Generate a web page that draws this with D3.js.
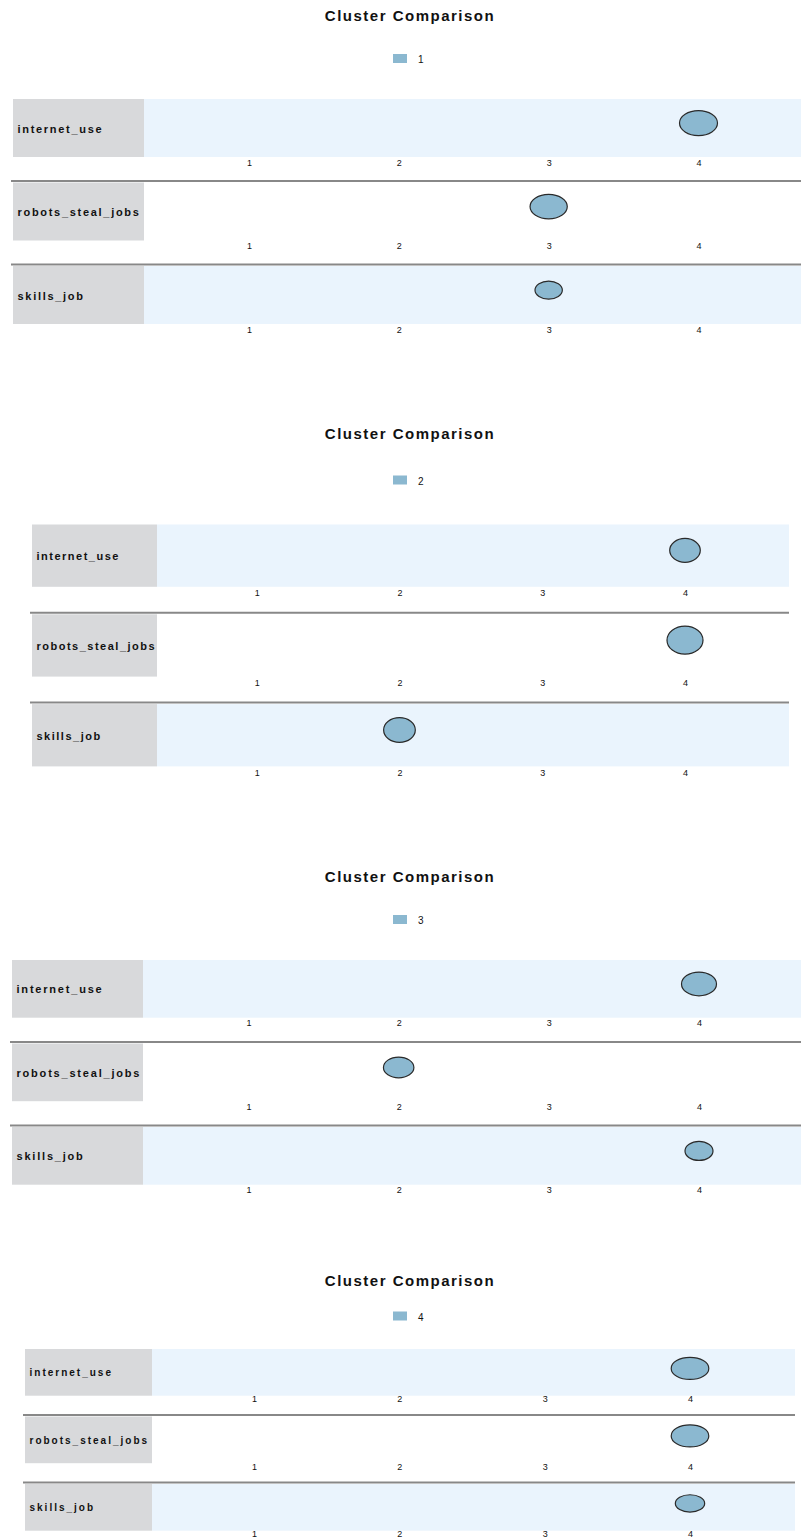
<!DOCTYPE html>
<html lang="en">
<head>
  <meta charset="UTF-8" />
  <title>Cluster Comparison</title>
  <script src="https://cdn.jsdelivr.net/npm/d3@7"></script>
  <style>
    body { margin: 0; background: #fff; }
    svg { display: block; font-family: "Liberation Sans", Arial, sans-serif; }
    .title { font-weight: bold; fill: #111; }
    .rowlabel { font-weight: bold; fill: #111; }
    .tick text { fill: #111; }
  </style>
</head>
<body>

<svg width="801" height="1540"></svg>

<script>
  // data
  const clusters = ["1", "2", "3", "4"];
  const variables = ["internet_use", "robots_steal_jobs", "skills_job"];
  const tickValues = [1, 2, 3, 4];
  // modal category of each variable, per cluster
  const modes1 = [4, 3, 3];
  const modes2 = [4, 4, 2];
  const modes3 = [4, 2, 4];
  const modes4 = [4, 4, 4];
  // relative marker size (share within cluster), per cluster
  const share1 = [1.0, 0.98, 0.72];
  const share2 = [0.85, 1.0, 0.88];
  const share3 = [1.0, 0.87, 0.8];
  const share4 = [1.0, 1.0, 0.78];

  const modes = [modes1, modes2, modes3, modes4];
  const shares = [share1, share2, share3, share4];

  // each panel was exported at a slightly different size, so each gets its own frame
  const panels = [
    { left: 13, boxRight: 144, right: 801, sepLeft: 11, top: 99, pitch: 83.5, bandH: 58,
      x1: 249, x4: 698.5, rMax: 19, ratio: 0.66, titleY: 20.5, legendY: 54, tickPad: 2.3,
      labelSize: 11, labelLs: 1.7, labelDy: 4.5 },
    { left: 32, boxRight: 157, right: 789, sepLeft: 30, top: 524.5, pitch: 89.8, bandH: 62.3,
      x1: 256.7, x4: 685, rMax: 18, ratio: 0.78, titleY: 439, legendY: 475.5, tickPad: 2.8,
      labelSize: 11, labelLs: 1.5, labelDy: 4.5 },
    { left: 12, boxRight: 143, right: 801, sepLeft: 10, top: 960, pitch: 83.5, bandH: 57.7,
      x1: 248.5, x4: 699, rMax: 17.5, ratio: 0.68, titleY: 882, legendY: 915, tickPad: 2.3,
      labelSize: 11, labelLs: 1.8, labelDy: 4.5 },
    { left: 25, boxRight: 152, right: 795, sepLeft: 23, top: 1349, pitch: 67.5, bandH: 46.7,
      x1: 254, x4: 690, rMax: 18.8, ratio: 0.59, titleY: 1286, legendY: 1311.5, tickPad: 0,
      labelSize: 10, labelLs: 2.0, labelDy: 3.8 }
  ];

  const svg = d3.select("svg");
  const markerFill = "#8bb8d0";
  const bandFill = "#eaf4fd";
  const boxFill = "#d8d9db";

  panels.forEach((p, ci) => {
    const g = svg.append("g");

    const x = d3.scaleLinear().domain([1, 4]).range([p.x1, p.x4]);
    const r = d3.scaleLinear().domain([0, 1]).range([0, p.rMax]);

    g.append("text")
      .attr("class", "title")
      .attr("x", 410)
      .attr("y", p.titleY)
      .attr("text-anchor", "middle")
      .style("font-size", "15px")
      .style("letter-spacing", "1.5px")
      .text("Cluster Comparison");

    // legend
    g.append("rect")
      .attr("x", 393)
      .attr("y", p.legendY)
      .attr("width", 14)
      .attr("height", 9)
      .attr("fill", markerFill);

    g.append("text")
      .attr("x", 418)
      .attr("y", p.legendY + 9)
      .style("font-size", "10px")
      .attr("fill", "#111")
      .text(clusters[ci]);

    variables.forEach((v, i) => {
      const top = p.top + i * p.pitch;

      g.append("rect")
        .attr("x", p.boxRight)
        .attr("y", top)
        .attr("width", p.right - p.boxRight)
        .attr("height", p.bandH)
        .attr("fill", i % 2 === 0 ? bandFill : "#fff");

      g.append("rect")
        .attr("x", p.left)
        .attr("y", top)
        .attr("width", p.boxRight - p.left)
        .attr("height", p.bandH)
        .attr("fill", boxFill);

      g.append("text")
        .attr("class", "rowlabel")
        .attr("x", p.left + 4.5)
        .attr("y", top + p.bandH / 2 + p.labelDy)
        .style("font-size", p.labelSize + "px")
        .style("letter-spacing", p.labelLs + "px")
        .text(v);

      const axis = d3.axisBottom(x)
        .tickValues(tickValues)
        .tickFormat(d3.format("d"))
        .tickSize(0)
        .tickPadding(p.tickPad);

      const ax = g.append("g")
        .attr("transform", `translate(0,${top + p.bandH})`)
        .call(axis);
      ax.select(".domain").remove();
      ax.selectAll("text")
        .style("font-size", "9px")
        .style("font-family", "'Liberation Sans', Arial, sans-serif");

      const rx = r(shares[ci][i]);
      g.append("ellipse")
        .attr("cx", x(modes[ci][i]))
        .attr("cy", top + 0.415 * p.bandH)
        .attr("rx", rx)
        .attr("ry", rx * p.ratio)
        .attr("fill", markerFill)
        .attr("stroke", "#2a2a2a")
        .attr("stroke-width", 1.2);

      if (i < variables.length - 1) {
        const sy = top + p.pitch - 1.5;
        g.append("line")
          .attr("x1", p.sepLeft)
          .attr("x2", p.right)
          .attr("y1", sy)
          .attr("y2", sy)
          .attr("stroke", "#888")
          .attr("stroke-width", 2);
      }
    });
  });
</script>

</body>
</html>
